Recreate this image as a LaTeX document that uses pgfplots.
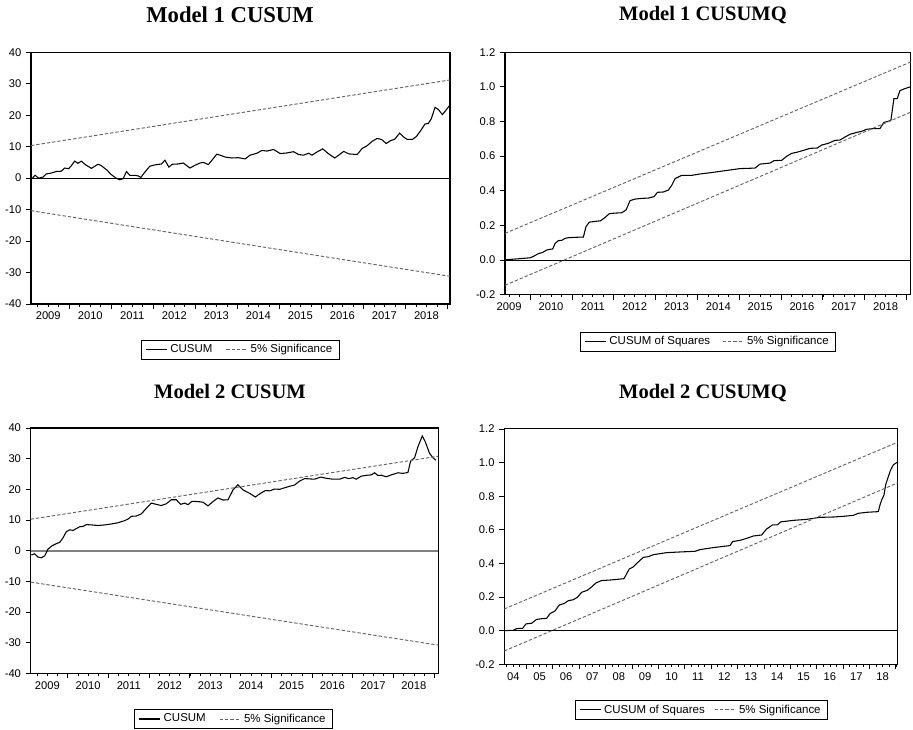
\documentclass[border=0pt]{standalone}
\usepackage{fontspec}
\setmainfont{Liberation Sans}
\newfontfamily\titlefont{Liberation Serif}
\usepackage{pgfplots}
\pgfplotsset{compat=1.18}
\definecolor{sig}{RGB}{100,100,100}

\pgfplotsset{
  cusum/.style={
    scale only axis,
    axis line style={line width=0.8pt},
    tick align=outside,
    xtick pos=left, ytick pos=left,
    major tick length=3.75pt, minor tick length=2pt,
    tick style={black, line width=0.6pt},
    ticklabel style={font=\fontsize{8.4}{10}\selectfont},
    xticklabels={},
    extra x tick style={major tick length=0pt, xticklabel style={yshift=-2.5pt}},
    legend columns=2,
    legend style={draw=black, line width=0.6pt, font=\fontsize{8.6}{10}\selectfont, anchor=north,
      inner xsep=3pt, inner ysep=1.2pt,
      /tikz/every even column/.append style={column sep=8pt}},
    legend cell align=left,
    legend image code/.code={\draw[#1] (0pt,0pt) -- (16pt,0pt);},
  },
  cusumline/.style={black, line width=0.8pt},
  sigline/.style={sig, line width=0.7pt, dash pattern=on 2.5pt off 1.5pt},
  zeroline/.style={black, line width=0.6pt, forget plot},
}

\begin{document}
\begin{tikzpicture}
\useasboundingbox (0pt,0pt) rectangle (684.75pt,547.5pt);

\node[anchor=base, font=\titlefont\bfseries\fontsize{17}{20}\selectfont] at (172.5pt,530.5pt) {Model 1 CUSUM};
\node[anchor=base, font=\titlefont\bfseries\fontsize{15.4}{18}\selectfont] at (527.25pt,532.1pt) {Model 1 CUSUMQ};
\node[anchor=base, font=\titlefont\bfseries\fontsize{15.4}{18}\selectfont] at (172.5pt,248.8pt) {Model 2 CUSUM};
\node[anchor=base, font=\titlefont\bfseries\fontsize{15.4}{18}\selectfont] at (527.25pt,248.25pt) {Model 2 CUSUMQ};

% ---------------- Model 1 CUSUM
\begin{axis}[cusum, at={(23.25pt,319.5pt)}, anchor=south west,
  width=314.25pt, height=188.8pt,
  xmin=2009.09, xmax=2019.06, ymin=-40, ymax=40,
  xtick={2010,...,2019},
  minor xtick={2009,2009.25,...,2019.25},
  extra x ticks={2009.5,2010.5,2011.5,2012.5,2013.5,2014.5,2015.5,2016.5,2017.5,2018.5},
  extra x tick labels={2009,2010,2011,2012,2013,2014,2015,2016,2017,2018},
  ytick={-40,-30,-20,-10,0,10,20,30,40},
  yticklabels={-40,-30,-20,-10,0,10,20,30,40},
  legend style={at={(0.499,-0.143)}},
]
\addplot[zeroline] coordinates {(2009.09,0) (2019.06,0)};
\addplot[cusumline] coordinates {
(2009.094,-0.4) (2009.189,0.9) (2009.269,0.0) (2009.372,0.3) (2009.452,1.3)
(2009.571,1.6) (2009.690,2.1) (2009.810,2.2) (2009.889,3.2) (2009.985,3.0)
(2010.048,3.9) (2010.128,5.4) (2010.207,4.7) (2010.287,5.4) (2010.382,4.3)
(2010.526,3.1) (2010.685,4.4) (2010.748,4.1) (2010.884,2.7) (2011.003,1.1)
(2011.122,-0.1) (2011.202,-0.5) (2011.282,-0.2) (2011.361,2.1) (2011.441,0.9)
(2011.560,0.9) (2011.640,0.7) (2011.703,0.2) (2011.799,1.9) (2011.918,3.8)
(2012.037,4.2) (2012.196,4.5) (2012.276,5.7) (2012.371,3.5) (2012.451,4.4)
(2012.594,4.5) (2012.713,4.8) (2012.872,3.2) (2012.992,4.1) (2013.111,4.8)
(2013.191,5.0) (2013.310,4.3) (2013.390,5.6) (2013.509,7.6) (2013.589,7.3)
(2013.708,6.7) (2013.867,6.4) (2014.026,6.5) (2014.185,6.1) (2014.304,7.3)
(2014.464,7.9) (2014.583,8.8) (2014.702,8.6) (2014.861,9.1) (2015.020,7.8)
(2015.179,8.0) (2015.338,8.4) (2015.458,7.5) (2015.577,7.3) (2015.697,7.9)
(2015.776,7.3) (2015.895,8.3) (2016.030,9.3) (2016.174,7.7) (2016.317,6.4)
(2016.412,7.3) (2016.532,8.5) (2016.651,7.7) (2016.850,7.5) (2016.969,9.4)
(2017.089,10.3) (2017.208,11.7) (2017.327,12.6) (2017.431,12.3) (2017.542,11.0)
(2017.646,11.9) (2017.749,12.4) (2017.860,14.3) (2017.964,13.0) (2018.043,12.3)
(2018.163,12.3) (2018.258,13.2) (2018.362,15.1) (2018.465,17.2) (2018.545,17.4)
(2018.616,18.9) (2018.704,22.5) (2018.783,21.8) (2018.879,20.2) (2018.958,21.5)
(2019.050,23.1)
};
\addlegendentry{CUSUM}
\addplot[sigline] coordinates {(2009.09,10.35) (2019.06,31.2)};
\addlegendentry{5\% Significance}
\addplot[sigline, forget plot] coordinates {(2009.09,-10.35) (2019.06,-31.2)};
\end{axis}

% ---------------- Model 1 CUSUMQ
\begin{axis}[cusum, at={(378.75pt,326.5pt)}, anchor=south west,
  width=304.3pt, height=181.8pt,
  xmin=2009.40, xmax=2019.10, ymin=-0.2, ymax=1.2,
  xtick={2010,...,2019},
  minor xtick={2009,2009.25,...,2019.25},
  extra x ticks={2009.5,2010.5,2011.5,2012.5,2013.5,2014.5,2015.5,2016.5,2017.5,2018.5},
  extra x tick labels={2009,2010,2011,2012,2013,2014,2015,2016,2017,2018},
  ytick={-0.2,0,0.2,0.4,0.6,0.8,1.0,1.2},
  yticklabels={-0.2,0.0,0.2,0.4,0.6,0.8,1.0,1.2},
  legend style={at={(0.5,-0.153)}, /tikz/every even column/.append style={column sep=7pt}},
]
\addplot[zeroline] coordinates {(2009.40,0) (2019.10,0)};
\addplot[cusumline] coordinates {
(2009.41,0.0) (2009.443,0.002) (2009.761,0.008) (2010.000,0.013) (2010.080,0.021)
(2010.199,0.037) (2010.303,0.044) (2010.398,0.058) (2010.478,0.062) (2010.542,0.064)
(2010.597,0.096) (2010.677,0.112) (2010.757,0.114) (2010.836,0.125) (2010.916,0.129)
(2011.075,0.131) (2011.274,0.133) (2011.338,0.194) (2011.418,0.219) (2011.553,0.223)
(2011.689,0.227) (2011.792,0.246) (2011.896,0.268) (2012.031,0.271) (2012.190,0.273)
(2012.294,0.289) (2012.390,0.343) (2012.509,0.352) (2012.668,0.356) (2012.828,0.358)
(2012.963,0.366) (2013.043,0.391) (2013.186,0.393) (2013.306,0.404) (2013.385,0.431)
(2013.465,0.470) (2013.624,0.489) (2013.863,0.489) (2014.062,0.497) (2014.301,0.504)
(2014.540,0.512) (2014.779,0.520) (2015.018,0.528) (2015.377,0.531) (2015.496,0.554)
(2015.655,0.558) (2015.735,0.560) (2015.830,0.574) (2016.014,0.576) (2016.133,0.599)
(2016.253,0.616) (2016.372,0.622) (2016.532,0.633) (2016.691,0.645) (2016.866,0.647)
(2016.970,0.664) (2017.129,0.674) (2017.288,0.691) (2017.408,0.693) (2017.527,0.710)
(2017.646,0.726) (2017.806,0.737) (2017.925,0.743) (2018.045,0.755) (2018.204,0.759)
(2018.363,0.759) (2018.459,0.795) (2018.562,0.801) (2018.626,0.807) (2018.698,0.932)
(2018.777,0.932) (2018.841,0.978) (2018.937,0.988) (2019.048,0.997) (2019.09,1.0)
};
\addlegendentry{CUSUM of Squares}
\addplot[sigline] coordinates {(2009.40,0.154) (2019.10,1.144)};
\addlegendentry{5\% Significance}
\addplot[sigline, forget plot] coordinates {(2009.40,-0.146) (2019.10,0.854)};
\end{axis}

% ---------------- Model 2 CUSUM
\begin{axis}[cusum, at={(23.0pt,42.5pt)}, anchor=south west,
  width=305.7pt, height=184.0pt,
  xmin=2009.09, xmax=2019.10, ymin=-40, ymax=40,
  xtick={2010,...,2019},
  minor xtick={2009,2009.25,...,2019.25},
  extra x ticks={2009.5,2010.5,2011.5,2012.5,2013.5,2014.5,2015.5,2016.5,2017.5,2018.5},
  extra x tick labels={2009,2010,2011,2012,2013,2014,2015,2016,2017,2018},
  ytick={-40,-30,-20,-10,0,10,20,30,40},
  yticklabels={-40,-30,-20,-10,0,10,20,30,40},
  legend style={at={(0.4975,-0.146)}},
]
\addplot[gray, line width=1.3pt, forget plot] coordinates {(2009.09,0) (2019.10,0)};
\addplot[cusumline] coordinates {
(2009.107,-1.4) (2009.189,-1.0) (2009.271,-2.1) (2009.353,-2.3) (2009.434,-1.7)
(2009.516,0.5) (2009.615,1.6) (2009.721,2.3) (2009.803,2.7) (2009.885,4.2)
(2009.966,6.2) (2010.048,6.8) (2010.130,6.6) (2010.212,7.2) (2010.294,7.8)
(2010.376,7.9) (2010.458,8.5) (2010.580,8.4) (2010.744,8.2) (2010.908,8.4)
(2011.071,8.7) (2011.235,9.1) (2011.399,9.8) (2011.481,10.3) (2011.562,11.2)
(2011.685,11.3) (2011.808,12.0) (2011.931,13.8) (2012.053,15.5) (2012.176,15.1)
(2012.299,14.7) (2012.422,15.3) (2012.544,16.6) (2012.667,16.6) (2012.774,15.1)
(2012.872,15.5) (2012.954,15.0) (2013.052,16.1) (2013.199,16.0) (2013.322,15.8)
(2013.445,14.6) (2013.567,16.0) (2013.690,17.2) (2013.813,16.5) (2013.936,16.6)
(2014.058,19.8) (2014.181,21.5) (2014.304,19.8) (2014.468,18.7) (2014.607,17.5)
(2014.713,18.5) (2014.852,19.6) (2014.959,19.5) (2015.082,20.1) (2015.204,20.0)
(2015.327,20.5) (2015.450,21.0) (2015.573,21.4) (2015.695,22.7) (2015.818,23.5)
(2015.941,23.4) (2016.063,23.3) (2016.211,24.0) (2016.350,23.6) (2016.514,23.3)
(2016.677,23.3) (2016.800,23.9) (2016.898,23.5) (2017.005,23.8) (2017.086,23.3)
(2017.209,24.3) (2017.356,24.6) (2017.455,24.7) (2017.536,25.4) (2017.618,24.5)
(2017.700,24.6) (2017.823,24.1) (2017.946,24.7) (2018.110,25.4) (2018.232,25.2)
(2018.355,25.5) (2018.421,29.2) (2018.519,30.3) (2018.601,33.9) (2018.707,37.4)
(2018.781,35.5) (2018.887,31.7) (2018.969,30.3) (2019.042,29.5)
};
\addlegendentry{CUSUM}
\addplot[sigline] coordinates {(2009.09,10.25) (2019.10,30.8)};
\addlegendentry{5\% Significance}
\addplot[sigline, forget plot] coordinates {(2009.09,-10.25) (2019.10,-30.8)};
\end{axis}

% ---------------- Model 2 CUSUMQ
\begin{axis}[cusum, at={(378.2pt,49.3pt)}, anchor=south west,
  width=295.05pt, height=176.5pt,
  xmin=2004.159, xmax=2019.068, ymin=-0.2, ymax=1.2,
  xtick={2005,...,2019},
  minor xtick={2004,2004.25,...,2019.25},
  extra x ticks={2004.5,2005.5,2006.5,2007.5,2008.5,2009.5,2010.5,2011.5,2012.5,2013.5,2014.5,2015.5,2016.5,2017.5,2018.5},
  extra x tick labels={04,05,06,07,08,09,10,11,12,13,14,15,16,17,18},
  ytick={-0.2,0,0.2,0.4,0.6,0.8,1.0,1.2},
  yticklabels={-0.2,0.0,0.2,0.4,0.6,0.8,1.0,1.2},
  legend style={at={(0.5005,-0.152)}, /tikz/every even column/.append style={column sep=5pt}},
]
\addplot[zeroline] coordinates {(2004.159,0) (2019.068,0)};
\addplot[cusumline] coordinates {
(2004.185,0.0) (2004.501,0.002) (2004.628,0.012) (2004.855,0.014) (2004.981,0.040)
(2005.196,0.044) (2005.386,0.067) (2005.575,0.071) (2005.765,0.073) (2005.891,0.101)
(2006.080,0.117) (2006.245,0.153) (2006.422,0.161) (2006.586,0.178) (2006.775,0.184)
(2006.927,0.198) (2007.091,0.228) (2007.306,0.240) (2007.470,0.260) (2007.634,0.284)
(2007.849,0.298) (2008.165,0.301) (2008.695,0.309) (2008.898,0.367) (2009.049,0.379)
(2009.213,0.405) (2009.428,0.436) (2009.618,0.440) (2009.807,0.452) (2010.313,0.464)
(2010.818,0.468) (2011.386,0.472) (2011.576,0.482) (2012.081,0.494) (2012.713,0.506)
(2012.814,0.530) (2013.092,0.537) (2013.344,0.549) (2013.597,0.563) (2013.913,0.569)
(2014.102,0.605) (2014.330,0.629) (2014.507,0.629) (2014.633,0.647) (2015.113,0.656)
(2015.620,0.662) (2016.124,0.674) (2016.629,0.676) (2017.008,0.680) (2017.387,0.686)
(2017.576,0.698) (2017.892,0.704) (2018.334,0.708) (2018.398,0.748) (2018.461,0.777)
(2018.549,0.807) (2018.612,0.867) (2018.713,0.916) (2018.801,0.956) (2018.903,0.986)
(2019.029,1.000) (2019.06,1.0)
};
\addlegendentry{CUSUM of Squares}
\addplot[sigline] coordinates {(2004.159,0.129) (2019.068,1.121)};
\addlegendentry{5\% Significance}
\addplot[sigline, forget plot] coordinates {(2004.159,-0.121) (2019.068,0.879)};
\end{axis}
\end{tikzpicture}
\end{document}
